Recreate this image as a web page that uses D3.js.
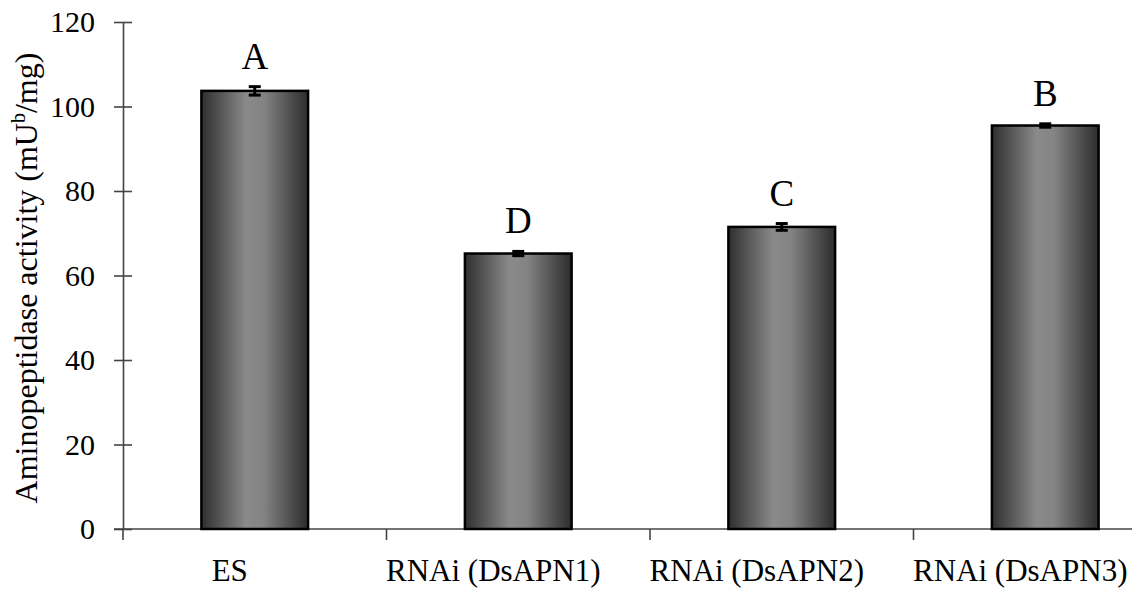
<!DOCTYPE html>
<html>
<head>
<meta charset="utf-8">
<script src="https://cdn.jsdelivr.net/npm/d3@7"></script>
<style>
  body { margin: 0; background: #fff; }
</style>
</head>
<body>
<svg id="chart" width="1132" height="590"></svg>
<script>
// chart data
const categories = ["ES", "RNAi (DsAPN1)", "RNAi (DsAPN2)", "RNAi (DsAPN3)"];
const activity   = [103.7, 65.2, 71.5, 95.5];
const errors     = [1.0, 0.5, 0.8, 0.4];
const letters    = ["A", "D", "C", "B"];
const yTicks     = [0, 20, 40, 60, 80, 100, 120];

const data = categories.map((c, i) => ({cat: c, value: activity[i], err: errors[i], letter: letters[i]}));

const serif = "'Liberation Serif', 'Times New Roman', Times, serif";
const svg = d3.select("#chart").style("font-family", serif);

// plot area (chart runs past the right edge, like the original)
const plotLeft = 123, plotTop = 22, plotBottom = 529, plotRight = 1177;

const x = d3.scaleBand().domain(categories).range([plotLeft, plotRight]).padding(0);
const y = d3.scaleLinear().domain([0, 120]).range([plotBottom, plotTop]);
const barW = x.bandwidth() * 0.405;

// bar gradient, dark at the sides and light in the middle
let grad = svg.append("defs").append("linearGradient")
  .attr("id", "barGrad").attr("x1", "0%").attr("x2", "100%").attr("y1", "0%").attr("y2", "0%");
grad.append("stop").attr("offset", "0%").attr("stop-color", "#2f2f2f");
grad.append("stop").attr("offset", "42%").attr("stop-color", "#8a8a8a");
grad.append("stop").attr("offset", "58%").attr("stop-color", "#848484");
grad.append("stop").attr("offset", "100%").attr("stop-color", "#2c2c2c");

// y axis with ticks crossing the line
let yAxis = svg.append("g")
  .attr("transform", "translate(" + plotLeft + ",0)")
  .call(d3.axisLeft(y).tickValues(yTicks).tickSize(9).tickSizeOuter(0).tickPadding(19));
yAxis.attr("font-family", null);
yAxis.select(".domain").attr("stroke", "#444").attr("stroke-width", 1.6);
yAxis.selectAll(".tick line").attr("x2", 9).attr("x1", -9).attr("stroke", "#444").attr("stroke-width", 1.6);
yAxis.selectAll(".tick text")
  .style("font-family", serif)
  .style("font-size", "30px")
  .attr("fill", "#000");

// x axis: ticks sit between the categories
let xAxis = svg.append("g");
xAxis.append("line")
  .attr("x1", plotLeft - 9).attr("x2", plotRight)
  .attr("y1", plotBottom).attr("y2", plotBottom)
  .attr("stroke", "#444").attr("stroke-width", 1.6);
xAxis.selectAll(".sep")
  .data(categories)
  .join("line")
  .attr("class", "sep")
  .attr("x1", d => x(d)).attr("x2", d => x(d))
  .attr("y1", plotBottom).attr("y2", plotBottom + 11)
  .attr("stroke", "#444").attr("stroke-width", 1.6);
xAxis.selectAll(".cat")
  .data(categories)
  .join("text")
  .attr("class", "cat")
  .attr("x", d => x(d) + x.bandwidth() / 2 - 25)
  .attr("y", 581)
  .attr("text-anchor", "middle")
  .style("font-family", serif)
  .style("font-size", "31px")
  .text(d => d);

// bars
svg.append("g").selectAll("rect")
  .data(data)
  .join("rect")
  .attr("x", d => x(d.cat) + (x.bandwidth() - barW) / 2)
  .attr("y", d => y(d.value))
  .attr("width", barW)
  .attr("height", d => y(0) - y(d.value))
  .attr("fill", "url(#barGrad)")
  .attr("stroke", "#000")
  .attr("stroke-width", 2.5);

// error bars
let eb = svg.append("g").selectAll("g")
  .data(data)
  .join("g")
  .attr("transform", d => "translate(" + (x(d.cat) + x.bandwidth() / 2) + ",0)");
eb.append("line")
  .attr("y1", d => y(d.value + d.err)).attr("y2", d => y(d.value - d.err))
  .attr("stroke", "#000").attr("stroke-width", 3);
eb.append("line")
  .attr("x1", -6).attr("x2", 6)
  .attr("y1", d => y(d.value + d.err)).attr("y2", d => y(d.value + d.err))
  .attr("stroke", "#000").attr("stroke-width", 3);
eb.append("line")
  .attr("x1", -6).attr("x2", 6)
  .attr("y1", d => y(d.value - d.err)).attr("y2", d => y(d.value - d.err))
  .attr("stroke", "#000").attr("stroke-width", 3);

// significance letters
svg.append("g").selectAll("text")
  .data(data)
  .join("text")
  .attr("x", d => x(d.cat) + x.bandwidth() / 2)
  .attr("y", d => y(d.value + d.err) - 18)
  .attr("text-anchor", "middle")
  .style("font-family", serif)
  .style("font-size", "37px")
  .text(d => d.letter);

// y axis title
let yt = svg.append("text")
  .attr("transform", "translate(37,278) rotate(-90)")
  .attr("text-anchor", "middle")
  .style("font-family", serif)
  .style("font-size", "32px");
yt.append("tspan").text("Aminopeptidase activity (mU");
yt.append("tspan").style("font-size", "20px").attr("dy", -12).text("b");
yt.append("tspan").attr("dy", 12).text("/mg)");
</script>
</body>
</html>
